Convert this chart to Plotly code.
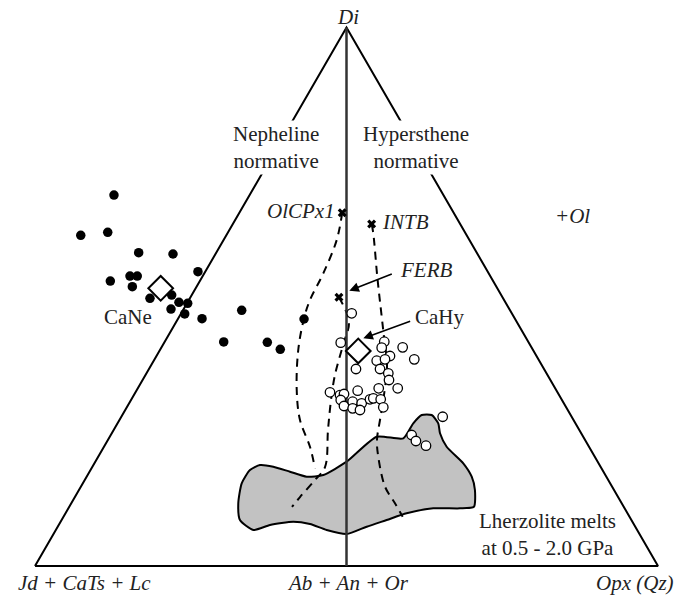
import plotly.graph_objects as go

# ---- Data (ternary components, % : Di apex, Opx right corner; Jd+CaTs+Lc = 100 - Di - Opx) ----
# Ne-normative samples (filled circles)
ne_di = [68.89, 61.41, 61.97, 58.18, 57.94, 52.92, 53.85, 53.85, 51.87, 54.65, 49.71,
         50.32, 47.72, 48.97, 48.78, 46.80, 45.92, 47.48, 41.60, 41.54, 40.24, 45.87]
ne_opx = [-21.77, -23.36, -19.31, -12.45, -6.82, -14.37, -11.68, -10.51, -10.31, -1.17, -6.40,
          -3.22, -2.03, -1.38, 0.12, 0.63, 3.85, 9.44, 9.49, 16.52, 19.25, 20.25]

# Hy-normative samples (open circles)
hy_di = [46.93, 41.47, 41.65, 40.54, 40.61, 39.00, 38.38, 38.12, 38.38, 36.58, 36.58,
         35.78, 34.54, 32.55, 33.00, 33.00, 32.26, 31.75, 31.94, 30.83, 29.71, 30.51,
         29.28, 30.21, 30.96, 31.14, 30.96, 29.47, 28.97, 27.72, 24.33, 23.21, 22.34]
hy_opx = [27.37, 28.34, 35.24, 35.38, 38.71, 37.48, 41.69, 35.79, 36.99, 33.23, 37.09,
          38.82, 39.55, 35.52, 38.67, 41.72, 31.22, 33.08, 33.63, 33.66, 34.74, 35.73,
          36.35, 37.33, 38.29, 38.73, 40.01, 41.17, 37.68, 51.58, 48.29, 49.54, 51.59]

# Starting compositions (crosses)
start_names = ["OlCPx1", "INTB", "FERB"]
start_di = [65.61, 63.51, 49.90]
start_opx = [16.51, 22.28, 23.84]

# Model compositions (diamonds)
model_names = ["CaNe", "CaHy"]
model_di = [51.57, 39.93]
model_opx = [-5.61, 31.92]

# Liquid lines of descent (dashed)
olcpx_di = [65.61, 60.54, 54.35, 49.40, 46.00, 40.11, 32.68, 27.11, 22.15, 18.14]
olcpx_opx = [16.51, 18.16, 19.10, 19.44, 20.18, 22.20, 25.67, 28.98, 33.06, 35.87]
ferb_di = [49.90, 45.31, 41.04, 35.47, 30.83, 25.26, 18.38, 15.97, 12.81, 10.96]
ferb_opx = [23.84, 27.74, 28.92, 30.41, 32.10, 34.40, 37.36, 36.95, 36.13, 35.77]
intb_di = [63.51, 61.78, 53.72, 46.30, 41.97, 37.33, 31.75, 27.11, 23.40, 20.30, 14.73, 11.64, 9.16]
intb_opx = [22.28, 23.41, 28.08, 32.50, 35.09, 37.84, 40.14, 41.82, 43.19, 44.95, 48.82, 51.96, 54.44]

# Lherzolite melts field (0.5 - 2.0 GPa)
lherz_di = [19.37, 24.01, 23.71, 26.50, 28.04, 28.04, 26.50, 24.64, 22.15, 19.07, 16.58, 14.11,
            11.01, 10.71, 10.71, 9.79, 8.54, 7.30, 5.94, 6.69, 7.80, 8.23, 7.61, 6.69, 8.54,
            11.64, 15.36, 17.83, 18.76, 18.44, 17.51, 16.58, 16.90]
lherz_opx = [40.34, 42.84, 47.26, 47.47, 48.05, 49.65, 51.48, 52.69, 55.00, 59.21, 61.81, 63.56,
             64.95, 62.86, 58.57, 54.76, 52.18, 49.59, 47.06, 43.47, 40.24, 37.34, 33.91, 31.69,
             28.63, 26.81, 25.50, 25.59, 26.73, 29.03, 32.17, 35.32, 37.83]

# Diagram frame (corners: Jd+CaTs+Lc, Opx, Di) and the Ne/Hy divide
frame_di = [0, 0, 100, 0]
frame_opx = [0, 100, 0, 0]
divide_di = [100, 0]
divide_opx = [0, 50]


def proj(di, opx):
    """Ternary -> planar: x along the base (0..100), y = Di."""
    return [o + d / 2 for d, o in zip(di, opx)], list(di)


SERIF = "Liberation Serif"
TXT = "#222222"

fig = go.Figure()

# Lherzolite field
lx, ly = proj(lherz_di + lherz_di[:1], lherz_opx + lherz_opx[:1])
fig.add_trace(go.Scatter(x=lx, y=ly, mode="lines", fill="toself", fillcolor="#c2c2c2",
                         line=dict(color="black", width=2, shape="spline", smoothing=0.6),
                         hoverinfo="skip"))

# dashed lines
for di, op in [(olcpx_di, olcpx_opx), (ferb_di, ferb_opx), (intb_di, intb_opx)]:
    x, y = proj(di, op)
    fig.add_trace(go.Scatter(x=x, y=y, mode="lines",
                             line=dict(color="black", width=2, dash="8px,6px", shape="spline"),
                             hoverinfo="skip"))

# frame
x, y = proj(frame_di, frame_opx)
fig.add_trace(go.Scatter(x=x, y=y, mode="lines", line=dict(color="black", width=2)))
x, y = proj(divide_di, divide_opx)
fig.add_trace(go.Scatter(x=x, y=y, mode="lines", line=dict(color="#333333", width=2.5)))

# samples
x, y = proj(ne_di, ne_opx)
fig.add_trace(go.Scatter(x=x, y=y, mode="markers",
                         marker=dict(symbol="circle", size=9.5, color="black")))
x, y = proj(hy_di, hy_opx)
fig.add_trace(go.Scatter(x=x, y=y, mode="markers",
                         marker=dict(symbol="circle", size=9.5, color="white",
                                     line=dict(color="black", width=1.3))))
x, y = proj(start_di, start_opx)
fig.add_trace(go.Scatter(x=x, y=y, mode="markers", text=start_names,
                         marker=dict(symbol="x", size=8, color="black")))
x, y = proj(model_di, model_opx)
fig.add_trace(go.Scatter(x=x, y=y, mode="markers", text=model_names,
                         marker=dict(symbol="diamond", size=19, color="white",
                                     line=dict(color="black", width=2))))

ann = []


def label(x, y, text, italic=False, xanchor="center", bg=None, size=21):
    t = f"<i>{text}</i>" if italic else text
    d = dict(x=x, y=y, xref="x", yref="y", text=t, showarrow=False, xanchor=xanchor,
             yanchor="middle", font=dict(family=SERIF, size=size, color=TXT))
    if bg:
        d["bgcolor"] = bg
    ann.append(d)


label(50.3, 102.0, "Di", italic=True)
label(38.7, 77.8, "Nepheline<br>normative", bg="white")
label(61.2, 77.8, "Hypersthene<br>normative", bg="white")
label(86.2, 65.0, "+Ol", italic=True)
label(48.5, 65.9, "OlCPx1", italic=True, xanchor="right")
label(55.4, 63.9, "INTB", italic=True, xanchor="left")
label(58.3, 55.0, "FERB", italic=True, xanchor="left")
label(60.6, 46.3, "CaHy", xanchor="left")
label(14.9, 46.3, "CaNe")
label(82.3, 5.85, "Lherzolite melts<br>at 0.5 - 2.0 GPa")
label(7.9, -3.2, "Jd + CaTs + Lc", italic=True)
label(50.2, -3.2, "Ab + An + Or", italic=True)
label(89.8, -3.2, "Opx (Qz)", italic=True, xanchor="left")

# arrows
for hx, hy, tx, ty in [(50.45, 51.12, 57.51, 54.35), (52.70, 42.28, 60.46, 45.55)]:
    ann.append(dict(x=hx, y=hy, ax=tx, ay=ty, xref="x", yref="y", axref="x", ayref="y",
                    text="", showarrow=True, arrowhead=2, arrowsize=1.2, arrowwidth=1.6,
                    arrowcolor="black"))

fig.update_layout(
    width=677, height=596, margin=dict(l=0, r=0, t=0, b=0),
    paper_bgcolor="white", plot_bgcolor="white", showlegend=False,
    xaxis=dict(range=[-5.618, 103.05], visible=False, fixedrange=True),
    yaxis=dict(range=[-5.571, 105.107], visible=False, fixedrange=True),
    annotations=ann,
)

fig.write_html("out.html")
